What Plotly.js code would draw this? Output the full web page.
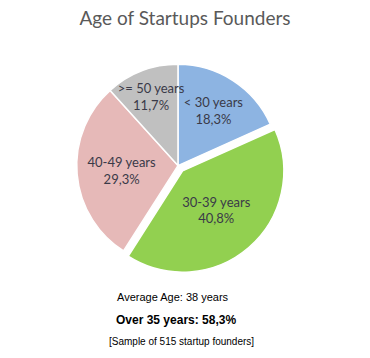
<!DOCTYPE html>
<html>
<head>
<meta charset="utf-8">
<script src="https://cdn.plot.ly/plotly-3.0.1.min.js"></script>
<style>html,body{margin:0;padding:0;background:#fff;}#chart{width:370px;height:358px;}</style>
</head>
<body>
<div id="chart"></div>
<script>
const categories = ["< 30 years", "30-39 years", "40-49 years", ">= 50 years"];
const shares = [18.3, 40.8, 29.3, 11.7];
const sliceColors = ["#8db4e2", "#92d050", "#e6b9b8", "#c0c0c0"];
const pulls = [0, 0.07, 0, 0];
const notes = ["Average Age: 38 years", "<b>Over 35 years: 58,3%</b>", "[Sample of 515 startup founders]"];

const pctText = shares.map(v => v.toFixed(1).replace('.', ',') + '%');

const trace = {
  type: 'pie',
  labels: categories,
  values: shares,
  customdata: pctText,
  sort: false,
  direction: 'clockwise',
  rotation: 0,
  pull: pulls,
  marker: {colors: sliceColors, line: {color: '#ffffff', width: 1.5}},
  texttemplate: '%{label}<br>%{customdata}',
  textposition: 'inside',
  insidetextorientation: 'horizontal',
  textfont: {family: 'Lato, Open Sans, sans-serif', size: 13, color: '#3a3a48'},
  hoverinfo: 'none',
  domain: {x: [0, 0.962], y: [0.235, 0.84]}
};

const layout = {
  width: 370, height: 358,
  margin: {l: 0, r: 0, t: 0, b: 0},
  paper_bgcolor: '#ffffff',
  showlegend: false,
  uniformtext: {minsize: 13, mode: 'show'},
  title: {text: 'Age of Startups Founders', x: 0.5, xanchor: 'center', y: 0.95, yanchor: 'middle',
          font: {family: 'Lato, Open Sans, sans-serif', size: 19, color: '#595959'}},
  annotations: [
    {text: notes[0], x: 0.467, y: 0.17, xref: 'paper', yref: 'paper', showarrow: false, yanchor: 'middle',
     font: {family: 'Liberation Sans, Arial, sans-serif', size: 11, color: '#000'}},
    {text: notes[1], x: 0.476, y: 0.106, xref: 'paper', yref: 'paper', showarrow: false, yanchor: 'middle',
     font: {family: 'Liberation Sans, Arial, sans-serif', size: 12, color: '#000'}},
    {text: notes[2], x: 0.49, y: 0.045, xref: 'paper', yref: 'paper', showarrow: false, yanchor: 'middle',
     font: {family: 'Liberation Sans, Arial, sans-serif', size: 10, color: '#000'}}
  ]
};

Plotly.newPlot('chart', [trace], layout, {displayModeBar: false, staticPlot: true});
</script>
</body>
</html>
